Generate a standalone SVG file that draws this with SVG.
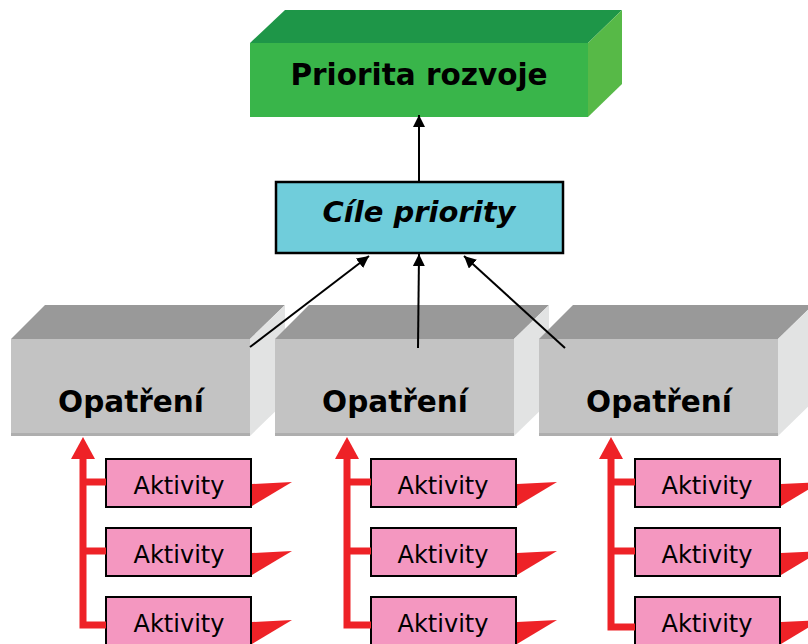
<svg xmlns="http://www.w3.org/2000/svg" width="808" height="644" viewBox="0 0 808 644">
<style>
.t{font-family:"DejaVu Sans",Verdana,sans-serif;text-anchor:middle;fill:#000}
.big{font-size:29.5px;font-weight:bold}
.cil{font-size:29px;font-weight:bold;font-style:italic}
.akt{font-size:24px}
.gf{fill:#c3c3c3}
.gt{fill:#999999}
.gs{fill:#e2e3e3}
.gb{fill:#aeaeae}
.ab{fill:#f497c0;stroke:#000;stroke-width:2}
.flag{fill:#ee2227}
.red{stroke:#ee2227;stroke-width:7;fill:none}
.blk{stroke:#000;stroke-width:2;fill:none;marker-end:url(#ah)}
</style>
<defs>
<marker id="ah" viewBox="0 0 12 12" refX="12" refY="6" markerWidth="12" markerHeight="12" markerUnits="userSpaceOnUse" orient="auto">
<path d="M0,0 L12,6 L0,12 Z" fill="#000"/>
</marker>
</defs>
<rect width="808" height="644" fill="#fff"/>

<g id="priorita">
<polygon points="250,43 285,10 622,10 588,43" fill="#1e9648"/>
<polygon points="588,43 622,10 622,84 588,117" fill="#57b947"/>
<rect x="250" y="43" width="338" height="74" fill="#39b54a"/>
<text class="t big" x="419" y="85">Priorita rozvoje</text>
</g>

<g id="cile">
<rect x="276" y="182" width="287" height="71" fill="#70cddb" stroke="#000" stroke-width="2.5"/>
<text class="t cil" x="419" y="222">Cíle priority</text>
</g>

<g id="opatreni1">
<polygon points="11,339 45,305 285,305 250,339" class="gt"/>
<polygon points="250,339 285,305 285,402 250,436" class="gs"/>
<rect x="11" y="339" width="239" height="97" class="gf"/>
<rect x="11" y="433" width="239" height="3" class="gb"/>
<text class="t big" x="131" y="412">Opatření</text>
</g>
<g id="opatreni2">
<polygon points="275,339 309,305 549,305 514,339" class="gt"/>
<polygon points="514,339 549,305 549,402 514,436" class="gs"/>
<rect x="275" y="339" width="239" height="97" class="gf"/>
<rect x="275" y="433" width="239" height="3" class="gb"/>
<text class="t big" x="395" y="412">Opatření</text>
</g>
<g id="opatreni3">
<polygon points="539,339 573,305 813,305 778,339" class="gt"/>
<polygon points="778,339 813,305 813,402 778,436" class="gs"/>
<rect x="539" y="339" width="239" height="97" class="gf"/>
<rect x="539" y="433" width="239" height="3" class="gb"/>
<text class="t big" x="659" y="412">Opatření</text>
</g>

<g id="aktivity1">
<rect x="106" y="459" width="145" height="48" class="ab"/>
<text class="t akt" x="179" y="494">Aktivity</text>
<rect x="106" y="528" width="145" height="48" class="ab"/>
<text class="t akt" x="179" y="563">Aktivity</text>
<rect x="106" y="597" width="145" height="60" class="ab"/>
<text class="t akt" x="179" y="632">Aktivity</text>
<polygon points="252,484 292,482 252,506" class="flag"/>
<polygon points="252,553 292,551 252,575" class="flag"/>
<polygon points="252,622 292,620 252,644" class="flag"/>
</g>
<g id="aktivity2">
<rect x="371" y="459" width="145" height="48" class="ab"/>
<text class="t akt" x="443" y="494">Aktivity</text>
<rect x="371" y="528" width="145" height="48" class="ab"/>
<text class="t akt" x="443" y="563">Aktivity</text>
<rect x="371" y="597" width="145" height="60" class="ab"/>
<text class="t akt" x="443" y="632">Aktivity</text>
<polygon points="517,484 557,482 517,506" class="flag"/>
<polygon points="517,553 557,551 517,575" class="flag"/>
<polygon points="517,622 557,620 517,644" class="flag"/>
</g>
<g id="aktivity3">
<rect x="635" y="459" width="145" height="48" class="ab"/>
<text class="t akt" x="707" y="494">Aktivity</text>
<rect x="635" y="528" width="145" height="48" class="ab"/>
<text class="t akt" x="707" y="563">Aktivity</text>
<rect x="635" y="597" width="145" height="60" class="ab"/>
<text class="t akt" x="707" y="632">Aktivity</text>
<polygon points="781,484 821,482 781,506" class="flag"/>
<polygon points="781,553 821,551 781,575" class="flag"/>
<polygon points="781,622 821,620 781,644" class="flag"/>
</g>

<g id="connectors">
<line class="blk" x1="419" y1="183" x2="419" y2="115"/>
<line class="blk" x1="250" y1="347" x2="369" y2="256"/>
<line class="blk" x1="418" y1="348" x2="419" y2="254"/>
<line class="blk" x1="565" y1="348" x2="464" y2="256"/>

<path class="red" d="M83,455 V625 H106 M83,482 H106 M83,551 H106"/>
<polygon class="flag" points="83,437 95,459 71,459"/>
<path class="red" d="M347,455 V625 H371 M347,482 H371 M347,551 H371"/>
<polygon class="flag" points="347,437 359,459 335,459"/>
<path class="red" d="M611,455 V627 H635 M611,482 H635 M611,551 H635"/>
<polygon class="flag" points="611,437 623,459 599,459"/>
</g>
</svg>
